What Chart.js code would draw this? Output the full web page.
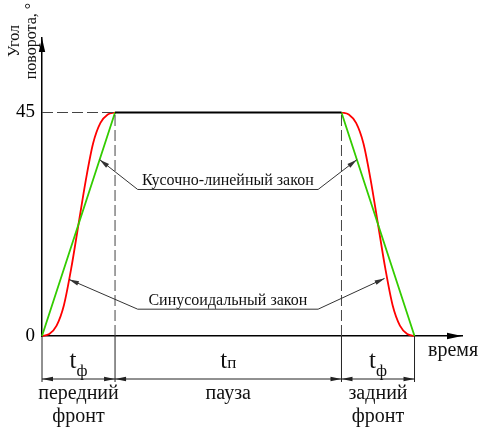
<!DOCTYPE html>
<html>
<head>
<meta charset="utf-8">
<script src="https://cdn.jsdelivr.net/npm/chart.js@4/dist/chart.umd.min.js"></script>
<style>
  html, body { margin: 0; padding: 0; background: #fff; }
  #wrap { width: 482px; height: 432px; }
</style>
</head>
<body>
<div id="wrap"><canvas id="angleChart"></canvas></div>
<script>
// time in units of front duration, angle in degrees
const angleTicks = [0, 45];
const frontEnd = 1;
const pauseEnd = 4.1;
const cycleEnd = 5.1;
const timeMax = 5.75;
const angleMax = 60;

const riseTime = [0, 0.1, 0.2, 0.3, 0.4, 0.5, 0.6, 0.7, 0.8, 0.9, 1.0];
const sineRise = [0, 0.4, 2.1, 6.2, 13.6, 22.5, 31.4, 38.8, 42.9, 44.6, 45];
const fallTime = [4.1, 4.2, 4.3, 4.4, 4.5, 4.6, 4.7, 4.8, 4.9, 5.0, 5.1];
const sineFall = [45, 44.6, 42.9, 38.8, 31.4, 22.5, 13.6, 6.2, 2.1, 0.4, 0];
const linearTime = [0, 1, 4.1, 5.1];
const linearAngle = [0, 45, 45, 0];

const serif = "'Liberation Serif', 'Times New Roman', serif";

function pts(xs, ys) { return xs.map((x, i) => ({ x: x, y: ys[i] })); }

const redData = pts(riseTime, sineRise).concat([{ x: 2.5, y: null }], pts(fallTime, sineFall));
const greenData = [
  { x: linearTime[0], y: linearAngle[0] }, { x: linearTime[1], y: linearAngle[1] },
  { x: 2.5, y: null },
  { x: linearTime[2], y: linearAngle[2] }, { x: linearTime[3], y: linearAngle[3] }
];

function arrowHead(ctx, x1, y1, x2, y2, len, half) {
  const a = Math.atan2(y2 - y1, x2 - x1);
  ctx.beginPath();
  ctx.moveTo(x2, y2);
  ctx.lineTo(x2 - len * Math.cos(a) + half * Math.sin(a), y2 - len * Math.sin(a) - half * Math.cos(a));
  ctx.lineTo(x2 - len * Math.cos(a) - half * Math.sin(a), y2 - len * Math.sin(a) + half * Math.cos(a));
  ctx.closePath();
  ctx.fill();
}

const decor = {
  id: 'decor',
  afterDraw(chart) {
    const ctx = chart.ctx;
    const xs = chart.scales.x, ys = chart.scales.y;
    const a = chart.chartArea;
    const X = v => xs.getPixelForValue(v);
    const Y = v => ys.getPixelForValue(v);
    ctx.save();
    ctx.fillStyle = '#000';
    ctx.strokeStyle = '#000';

    // axis arrows
    arrowHead(ctx, a.left, a.top + 20, a.left, a.top, 14, 3.2);
    arrowHead(ctx, a.right - 20, a.bottom, a.right, a.bottom, 15, 3.2);

    // extension lines and dimension line
    const dimY = a.bottom + 43;
    ctx.lineWidth = 1;
    ctx.strokeStyle = '#222';
    [0, frontEnd, pauseEnd, cycleEnd].forEach(v => {
      ctx.beginPath();
      ctx.moveTo(X(v), a.bottom);
      ctx.lineTo(X(v), dimY + 3);
      ctx.stroke();
    });
    ctx.beginPath();
    ctx.moveTo(X(0), dimY);
    ctx.lineTo(X(cycleEnd), dimY);
    ctx.stroke();
    ctx.fillStyle = '#222';
    [[0, frontEnd], [frontEnd, pauseEnd], [pauseEnd, cycleEnd]].forEach(([s, e]) => {
      arrowHead(ctx, X(s) + 20, dimY, X(s), dimY, 11, 2.3);
      arrowHead(ctx, X(e) - 20, dimY, X(e), dimY, 11, 2.3);
    });

    // leaders
    ctx.strokeStyle = '#333';
    ctx.fillStyle = '#333';
    ctx.lineWidth = 1;
    const leaders = [
      { y: 29.5, tips: [[0.79, 35.5], [4.31, 35.5]] },
      { y: 5.4, tips: [[0.37, 11.4], [4.69, 11.6]] }
    ];
    leaders.forEach(l => {
      const x1 = X(1.31), x2 = X(3.78), yy = Y(l.y);
      ctx.beginPath();
      ctx.moveTo(X(l.tips[0][0]), Y(l.tips[0][1]));
      ctx.lineTo(x1, yy);
      ctx.lineTo(x2, yy);
      ctx.lineTo(X(l.tips[1][0]), Y(l.tips[1][1]));
      ctx.stroke();
      arrowHead(ctx, x1, yy, X(l.tips[0][0]), Y(l.tips[0][1]), 10, 2.4);
      arrowHead(ctx, x2, yy, X(l.tips[1][0]), Y(l.tips[1][1]), 10, 2.4);
    });

    // texts
    ctx.fillStyle = '#111';
    ctx.textAlign = 'center';
    ctx.textBaseline = 'alphabetic';
    const mid = (X(1.31) + X(3.78)) / 2;
    ctx.font = '16px ' + serif;
    ctx.fillText('Кусочно-линейный закон', mid, Y(29.5) - 4);
    ctx.fillText('Синусоидальный закон', mid, Y(5.4) - 4);

    ctx.font = '20px ' + serif;
    ctx.textAlign = 'left';
    ctx.fillText('время', a.right - 34, a.bottom + 20);

    // t labels
    function tLabel(cx, sub, subDrop) {
      ctx.font = '25px ' + serif;
      const tw = ctx.measureText('t').width;
      ctx.font = '17px ' + serif;
      const sw = ctx.measureText(sub).width;
      const x0 = cx - (tw + sw) / 2;
      ctx.textAlign = 'left';
      ctx.font = '25px ' + serif;
      ctx.fillText('t', x0, a.bottom + 32);
      ctx.font = '17px ' + serif;
      ctx.fillText(sub, x0 + tw, a.bottom + 32 + subDrop);
    }
    tLabel((X(0) + X(frontEnd)) / 2, 'ф', 8);
    tLabel((X(frontEnd) + X(pauseEnd)) / 2, 'п', 0);
    tLabel((X(pauseEnd) + X(cycleEnd)) / 2, 'ф', 8);

    ctx.textAlign = 'center';
    ctx.font = '20px ' + serif;
    ctx.fillText('передний', (X(0) + X(frontEnd)) / 2, a.bottom + 63);
    ctx.fillText('фронт', (X(0) + X(frontEnd)) / 2, a.bottom + 86);
    ctx.fillText('пауза', (X(frontEnd) + X(pauseEnd)) / 2, a.bottom + 63);
    ctx.fillText('задний', (X(pauseEnd) + X(cycleEnd)) / 2, a.bottom + 63);
    ctx.fillText('фронт', (X(pauseEnd) + X(cycleEnd)) / 2, a.bottom + 86);

    // y title, rotated
    ctx.translate(a.left - 23, 41);
    ctx.rotate(-Math.PI / 2);
    ctx.font = '16px ' + serif;
    ctx.fillText('Угол', 0, 0);
    ctx.fillText('поворота, °', 0, 17);
    ctx.restore();
  }
};

new Chart(document.getElementById('angleChart'), {
  type: 'line',
  data: {
    datasets: [
      {
        data: [{ x: 0, y: 45 }, { x: frontEnd, y: 45 }],
        borderColor: '#444', borderWidth: 1, borderDash: [11, 4], pointRadius: 0
      },
      {
        data: [{ x: frontEnd, y: 0 }, { x: frontEnd, y: 45 }],
        borderColor: '#444', borderWidth: 1, borderDash: [11, 4], pointRadius: 0
      },
      {
        data: [{ x: pauseEnd, y: 0 }, { x: pauseEnd, y: 45 }],
        borderColor: '#444', borderWidth: 1, borderDash: [11, 4], pointRadius: 0
      },
      {
        data: [{ x: frontEnd, y: 45 }, { x: pauseEnd, y: 45 }],
        borderColor: '#000', borderWidth: 2, pointRadius: 0
      },
      {
        data: greenData,
        borderColor: '#33cc00', borderWidth: 1.8, pointRadius: 0, spanGaps: false
      },
      {
        data: redData,
        borderColor: '#ff0000', borderWidth: 1.8, pointRadius: 0, spanGaps: false,
        cubicInterpolationMode: 'monotone'
      }
    ]
  },
  options: {
    responsive: true,
    maintainAspectRatio: false,
    animation: false,
    clip: false,
    layout: { padding: { left: 0, top: 38, right: 20, bottom: 0 } },
    plugins: { legend: { display: false }, tooltip: { enabled: false } },
    scales: {
      x: {
        type: 'linear', min: 0, max: timeMax,
        grid: { display: false, drawTicks: false },
        border: { display: true, color: '#000', width: 1.5 },
        ticks: { display: false },
        afterFit: s => { s.height = 96; }
      },
      y: {
        min: 0, max: angleMax,
        grid: { display: false, drawTicks: false },
        border: { display: true, color: '#000', width: 1.5 },
        afterBuildTicks: s => { s.ticks = angleTicks.map(v => ({ value: v })); },
        ticks: { color: '#000', padding: 7, font: { family: serif, size: 19 } },
        afterFit: s => { s.width = 42; }
      }
    }
  },
  plugins: [decor]
});
</script>
</body>
</html>
